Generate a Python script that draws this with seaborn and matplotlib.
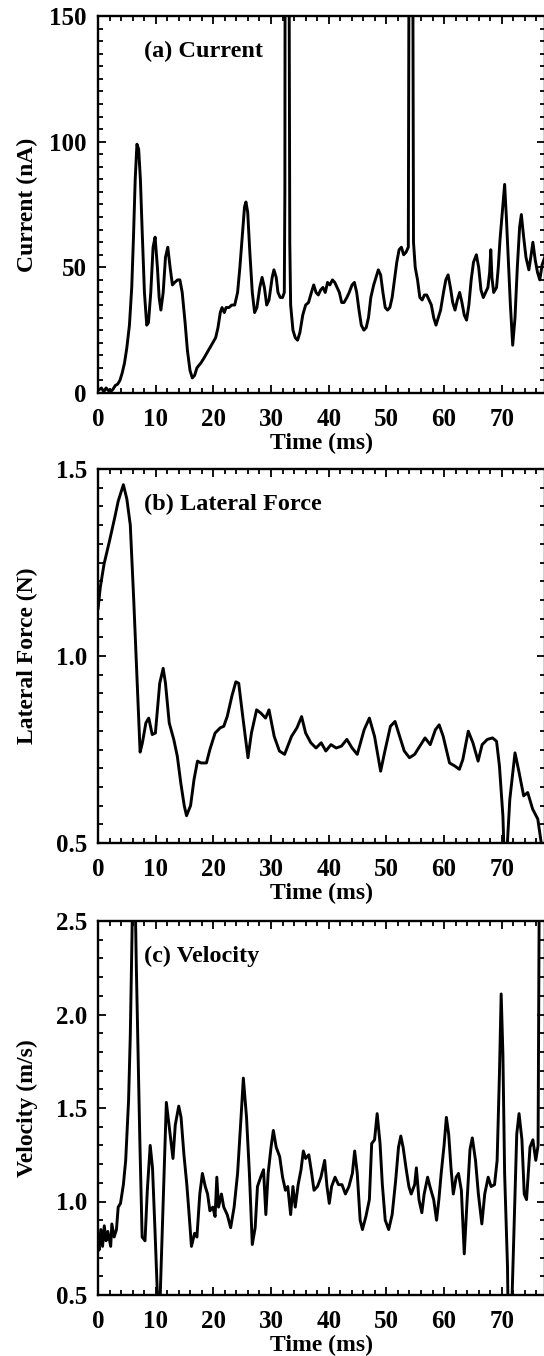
import numpy as np
import pandas as pd
import matplotlib
matplotlib.use("Agg")
import matplotlib.pyplot as plt
from matplotlib.ticker import MultipleLocator
import seaborn as sns

# ---------------- data ----------------
cur_t = [0.0, 0.6, 1.0, 1.4, 1.8, 2.2, 2.6, 3.0, 3.4, 3.8, 4.2, 4.6, 5.0, 5.45, 5.85, 6.15,
         6.45, 6.75, 7.05, 7.35, 7.65, 8.05, 8.45, 8.75, 9.15, 9.55, 9.9, 10.3, 10.6, 10.9,
         11.3, 11.7, 12.1, 12.5, 12.9, 13.3, 13.8, 14.2, 14.6, 15.1, 15.5, 15.95, 16.35,
         16.75, 17.15, 17.85, 18.4, 18.9, 19.4, 19.9, 20.4, 20.8, 21.2, 21.5, 21.9, 22.2,
         22.7, 23.2, 23.7, 24.2, 24.6, 25.0, 25.4, 25.65, 25.95, 26.35, 26.75, 27.15, 27.55,
         28.05, 28.45, 28.85, 29.25, 29.65, 30.2, 30.5, 30.9, 31.2, 31.6, 32.0, 32.3, 32.4,
         32.45, 33.1, 33.25, 33.4, 33.8, 34.2, 34.6, 35.0, 35.5, 36.0, 36.5, 37.0, 37.4,
         37.8, 38.2, 38.6, 39.0, 39.4, 39.8, 40.2, 40.65, 41.05, 41.45, 41.85, 42.25, 42.65,
         43.15, 43.55, 44.05, 44.45, 44.85, 45.25, 45.65, 46.1, 46.5, 46.9, 47.3, 47.8, 48.2,
         48.6, 49.0, 49.4, 49.8, 50.2, 50.6, 51.0, 51.4, 51.8, 52.2, 52.6, 53.0, 53.4, 53.8,
         53.95, 54.55, 54.7, 55.0, 55.4, 55.8, 56.2, 56.6, 57.0, 57.4, 57.8, 58.2, 58.6,
         59.0, 59.4, 59.9, 60.3, 60.7, 61.1, 61.5, 61.9, 62.3, 62.7, 63.1, 63.5, 63.9, 64.3,
         64.7, 65.1, 65.6, 66.0, 66.4, 66.8, 67.2, 67.6, 67.9, 68.1, 68.3, 68.6, 69.1, 69.4,
         69.7, 70.1, 70.5, 70.8, 71.1, 71.5, 71.9, 72.3, 72.7, 73.1, 73.4, 73.8, 74.2, 74.7,
         75.1, 75.4, 75.8, 76.2, 76.6, 77.0, 77.6]
cur_v = [1, 2, 0.5, 2, 1, 0.5, 1.5, 3, 3.5, 5, 8, 12, 18, 27, 42, 62,
         85, 99, 97, 85, 65, 40, 27, 28, 40, 58, 62, 50, 38, 33,
         40, 54, 58, 50, 43, 44, 45, 45, 40, 28, 17, 9, 6,
         7, 10, 12, 14, 16, 18, 20, 22, 26, 32, 34, 32, 34,
         34, 35, 35, 40, 50, 62, 74, 76, 72, 55, 40, 32, 34,
         42, 46, 42, 35, 37, 46, 49, 46, 40, 38, 38, 40, 80,
         200, 200, 60, 35, 25, 22, 21, 24, 31, 35, 36, 40, 43,
         40, 39, 41, 42, 40, 44, 43, 45, 44, 42, 40, 36, 36,
         38, 40, 43, 44, 40, 33, 27, 25, 26, 30, 38, 43, 46,
         49, 47, 40, 34, 33, 34, 38, 45, 52, 57, 58, 55, 56, 58,
         200, 200, 60, 50, 45, 38, 37, 39, 39, 37, 35, 30, 27,
         30, 33, 40, 45, 47, 42, 36, 33, 37, 40, 36, 31, 29, 35,
         45, 52, 55, 50, 41, 38, 40, 42, 48, 57, 46, 40, 42, 50,
         61, 72, 83, 70, 55, 35, 19, 30, 50, 66, 71, 62, 54, 49,
         55, 60, 53, 48, 45, 51, 55]

lat_t = [0.0, 0.4, 1.05, 2.0, 2.9, 3.5, 4.4, 5.0, 5.6, 6.2, 6.8, 7.3, 7.7, 8.3, 8.8, 9.4,
         9.95, 10.7, 11.3, 11.7, 12.35, 13.15, 13.75, 14.35, 14.95, 15.35, 16.05, 16.65,
         17.25, 17.85, 18.8, 19.4, 20.3, 21.2, 21.8, 22.4, 23.2, 23.9, 24.4, 25.1, 26.0,
         26.6, 27.5, 28.25, 29.05, 29.65, 30.55, 31.45, 32.35, 33.55, 34.5, 35.3, 36.0,
         36.9, 37.8, 38.7, 39.5, 40.4, 41.3, 42.2, 43.15, 44.05, 44.95, 46.15, 47.05, 47.95,
         49.0, 49.8, 50.7, 51.5, 52.2, 53.1, 54.0, 54.9, 55.8, 56.7, 57.6, 58.5, 59.15,
         59.85, 60.95, 61.85, 62.65, 63.25, 64.2, 65.0, 65.9, 66.6, 67.5, 68.4, 69.1, 69.6,
         70.2, 70.45, 70.8, 71.4, 72.3, 72.9, 73.8, 74.5, 75.35, 76.25, 76.85, 77.6]
lat_v = [1.125, 1.184, 1.246, 1.308, 1.37, 1.414, 1.458, 1.42, 1.35, 1.148, 0.927, 0.743,
         0.768, 0.821, 0.834, 0.79, 0.794, 0.927, 0.967, 0.927, 0.821, 0.776, 0.732, 0.661,
         0.60, 0.573, 0.60, 0.67, 0.719, 0.714, 0.714, 0.75, 0.794, 0.808, 0.812, 0.838,
         0.892, 0.931, 0.927, 0.838, 0.728, 0.794, 0.856, 0.847, 0.834, 0.856, 0.785, 0.746,
         0.737, 0.785, 0.808, 0.838, 0.794, 0.768, 0.754, 0.768, 0.746, 0.763, 0.754, 0.759,
         0.777, 0.754, 0.737, 0.803, 0.834, 0.785, 0.692, 0.75, 0.812, 0.825, 0.79, 0.746,
         0.728, 0.737, 0.759, 0.781, 0.763, 0.803, 0.816, 0.785, 0.714, 0.706, 0.697, 0.723,
         0.799, 0.768, 0.719, 0.763, 0.777, 0.781, 0.772, 0.706, 0.573, 0.45, 0.45, 0.617,
         0.741, 0.697, 0.626, 0.635, 0.591, 0.564, 0.50, 0.45]

vel_t = [0.0, 0.18, 0.49, 0.79, 1.09, 1.4, 1.7, 2.2, 2.4, 2.8, 3.2, 3.5, 3.9, 4.4, 4.8,
         5.3, 5.6, 5.9, 6.05, 6.35, 6.65, 6.95, 7.25, 7.65, 8.15, 8.55, 9.05, 9.45, 9.9,
         10.3, 10.4, 10.7, 10.85, 11.3, 11.85, 12.5, 13.0, 13.4, 14.0, 14.4, 14.9, 15.4,
         15.8, 16.2, 16.75, 17.15, 17.65, 18.1, 18.6, 19.0, 19.4, 19.9, 20.3, 20.6, 20.9,
         21.4, 21.8, 22.4, 23.0, 23.6, 24.2, 24.8, 25.2, 25.75, 26.25, 26.75, 27.25, 27.65,
         28.2, 28.7, 29.1, 29.5, 30.0, 30.4, 30.9, 31.5, 32.0, 32.5, 32.9, 33.4, 33.8, 34.2,
         34.7, 35.2, 35.6, 36.0, 36.55, 37.05, 37.45, 38.05, 38.65, 39.3, 39.7, 40.1, 40.5,
         41.1, 41.7, 42.3, 42.9, 43.5, 44.1, 44.5, 44.95, 45.45, 45.85, 46.45, 47.05, 47.45,
         47.95, 48.4, 48.9, 49.3, 49.8, 50.4, 51.0, 51.6, 52.1, 52.5, 52.9, 53.4, 53.9, 54.3,
         54.9, 55.2, 55.65, 56.15, 56.55, 57.15, 57.55, 58.2, 58.7, 59.1, 59.5, 60.0, 60.4,
         60.8, 61.2, 61.6, 62.1, 62.5, 63.0, 63.5, 64.0, 64.5, 64.9, 65.45, 65.95, 66.55,
         67.05, 67.65, 68.15, 68.75, 69.2, 69.6, 69.9, 70.2, 70.5, 71.0, 71.1, 71.7, 71.8,
         72.1, 72.6, 73.0, 73.5, 73.9, 74.3, 74.9, 75.4, 75.9, 76.3, 76.55, 77.6]
vel_v = [0.79, 0.74, 0.85, 0.76, 0.87, 0.79, 0.84, 0.76, 0.88, 0.81, 0.85, 0.97, 0.99,
         1.09, 1.22, 1.54, 1.89, 2.43, 2.8, 2.8, 2.25, 1.8, 1.33, 0.81, 0.79, 1.06, 1.30,
         1.18, 0.83, 0.5, 0.4, 0.4, 0.56, 1.0, 1.53, 1.36, 1.23, 1.41, 1.51, 1.45, 1.25,
         1.09, 0.93, 0.76, 0.83, 0.81, 1.04, 1.15, 1.08, 1.04, 0.95, 0.97, 0.92, 1.13, 0.97,
         1.04, 0.97, 0.93, 0.86, 0.97, 1.15, 1.45, 1.66, 1.45, 1.15, 0.77, 0.86, 1.08,
         1.13, 1.17, 0.93, 1.15, 1.29, 1.38, 1.29, 1.24, 1.13, 1.06, 1.08, 0.93, 1.08, 0.97,
         1.09, 1.17, 1.27, 1.23, 1.25, 1.15, 1.06, 1.08, 1.13, 1.22, 1.08, 0.99, 1.08,
         1.13, 1.09, 1.09, 1.04, 1.08, 1.15, 1.27, 1.15, 0.90, 0.85, 0.92, 1.01, 1.31,
         1.33, 1.47, 1.31, 1.09, 0.90, 0.85, 0.93, 1.11, 1.29, 1.35, 1.29, 1.18, 1.08, 1.04,
         1.09, 1.18, 1.01, 0.94, 1.04, 1.13, 1.08, 1.01, 0.90, 1.01, 1.15, 1.30, 1.45,
         1.36, 1.18, 1.04, 1.13, 1.15, 1.06, 0.72, 1.01, 1.28, 1.34, 1.22, 1.04, 0.88,
         1.04, 1.13, 1.08, 1.09, 1.22, 1.68, 2.11, 1.79, 1.15, 0.65, 0.4, 0.4, 0.5,
         0.83, 1.36, 1.47, 1.33, 1.04, 1.01, 1.29, 1.33, 1.22, 1.3, 3.0, 3.0]

panel_titles = ["(a) Current", "(b) Lateral Force", "(c) Velocity"]
y_labels = ["Current (nA)", "Lateral Force (N)", "Velocity (m/s)"]
x_label = "Time (ms)"

# ---------------- style ----------------
sns.set_style("ticks")
plt.rcParams["font.family"] = ["Liberation Serif", "DejaVu Serif"]
plt.rcParams["font.weight"] = "bold"
plt.rcParams["axes.labelweight"] = "bold"
plt.rcParams["text.color"] = "black"
plt.rcParams["axes.labelcolor"] = "black"
plt.rcParams["xtick.color"] = "black"
plt.rcParams["ytick.color"] = "black"

fig = plt.figure(figsize=(5.44, 13.56), dpi=100)
W, H = 544.0, 1356.0
left = 98 / W
width = (545 - 98) / W
boxes = [(16, 393), (469, 843), (921, 1295)]

series = [(cur_t, cur_v, (0, 150), 50, 5),
          (lat_t, lat_v, (0.5, 1.5), 0.5, 0.05),
          (vel_t, vel_v, (0.5, 2.5), 0.5, 0.1)]

for i, ((top, bot), (tt, vv, ylim, ymaj, ymin)) in enumerate(zip(boxes, series)):
    ax = fig.add_axes([left, 1 - bot / H, width, (bot - top) / H])
    df = pd.DataFrame({"t": tt, "v": vv})
    sns.lineplot(data=df, x="t", y="v", ax=ax, color="black", linewidth=2.1,
                 estimator=None, sort=False)
    ax.set_xlim(0, 77.5)
    ax.set_ylim(*ylim)
    ax.xaxis.set_major_locator(MultipleLocator(10))
    ax.xaxis.set_minor_locator(MultipleLocator(2))
    ax.yaxis.set_major_locator(MultipleLocator(ymaj))
    ax.yaxis.set_minor_locator(MultipleLocator(ymin))
    ax.tick_params(which="both", direction="in", top=True, right=True,
                   labelsize=18, width=1.3, colors="black")
    ax.tick_params(axis="x", which="both", pad=11)
    ax.tick_params(axis="y", which="both", pad=8)
    ax.tick_params(which="major", length=6)
    ax.tick_params(which="minor", length=3.5)
    for lbl in ax.get_xticklabels() + ax.get_yticklabels():
        lbl.set_fontweight("bold")
    for sp in ax.spines.values():
        sp.set_linewidth(1.7)
        sp.set_color("black")
    ax.set_xlabel(x_label, fontsize=17, fontweight="bold", labelpad=1, color="black")
    ax.set_ylabel(y_labels[i], fontsize=17, fontweight="bold", color="black")
    ax.yaxis.set_label_coords(-0.135, 0.5)
    ax.text(0.103, 0.905, panel_titles[i], transform=ax.transAxes, fontsize=17.5,
            fontweight="bold", ha="left", va="center", color="black")

fig.savefig("out.png", dpi=100, facecolor="white")
